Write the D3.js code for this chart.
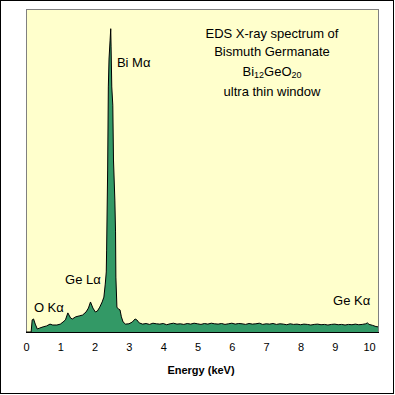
<!DOCTYPE html>
<html>
<head>
<meta charset="utf-8">
<script src="https://cdnjs.cloudflare.com/ajax/libs/d3/7.8.5/d3.min.js"></script>
<style>
  body { margin: 0; background: #fff; }
  svg text { font-family: "Liberation Sans", Arial, sans-serif; }
</style>
</head>
<body>
<div id="chart"></div>
<script>
// spectrum (energy in keV, counts in arbitrary units)
var energy = [
    0.00, 0.15, 0.18, 0.22, 0.27, 0.33, 0.40, 0.50, 0.60, 0.70,
    0.78, 0.90, 1.00, 1.08, 1.15, 1.22, 1.30, 1.35, 1.45, 1.55,
    1.65, 1.75, 1.82, 1.88, 1.95, 2.02, 2.08, 2.15, 2.22, 2.27,
    2.31, 2.34, 2.35, 2.38, 2.40, 2.42, 2.45, 2.47, 2.48, 2.50,
    2.53, 2.55, 2.59, 2.61, 2.62, 2.65, 2.70, 2.74, 2.78, 2.83,
    2.90, 3.00, 3.10, 3.18, 3.23, 3.30,
    3.4, 3.5, 3.6, 3.7, 3.8, 3.9, 4.0, 4.1, 4.2, 4.3,
    4.4, 4.5, 4.6, 4.7, 4.8, 4.9, 5.0, 5.1, 5.2, 5.3,
    5.4, 5.5, 5.6, 5.7, 5.8, 5.9, 6.0, 6.1, 6.2, 6.3,
    6.4, 6.5, 6.6, 6.7, 6.8, 6.9, 7.0, 7.1, 7.2, 7.3,
    7.4, 7.5, 7.6, 7.7, 7.8, 7.9, 8.0, 8.1, 8.2, 8.3,
    8.4, 8.5, 8.6, 8.7, 8.8, 8.9, 9.0, 9.1, 9.2, 9.3,
    9.4, 9.5, 9.6, 9.7, 9.8, 9.9, 9.95, 10.0, 10.1, 10.2, 10.26
];
var counts = [
    0, 0, 40, 43, 26, 10, 13, 17, 20, 26,
    23, 23, 26, 33, 40, 63, 46, 43, 50, 53,
    56, 66, 79, 99, 79, 66, 69, 82, 99, 115,
    158, 198, 270, 534, 808, 900, 960, 1000, 940, 808,
    748, 567, 435, 330, 181, 82, 75, 73, 50, 33,
    26, 27, 33, 43, 40, 30,
    26, 28, 25, 29, 27, 26, 28, 24, 27, 29,
    26, 27, 25, 28, 26, 29, 27, 25, 28, 26,
    29, 27, 26, 28, 25, 27, 29, 26, 28, 27,
    25, 28, 26, 27, 29, 25, 27, 26, 28, 25,
    27, 26, 24, 27, 25, 26, 24, 26, 25, 23,
    25, 26, 24, 25, 23, 25, 26, 24, 25, 23,
    25, 24, 26, 24, 25, 27, 30, 25, 22, 18, 17
];
var xTicks = [0, 1, 2, 3, 4, 5, 6, 7, 8, 9, 10];
var titleLines = ["EDS X-ray spectrum of", "Bismuth Germanate", "", "ultra thin window"];
var peakLabels = [
    { text: "Bi M\u03b1", e: 2.65, c: 874 },
    { text: "Ge L\u03b1", e: 1.14, c: 158 },
    { text: "O K\u03b1", e: 0.23, c: 66 },
    { text: "Ge K\u03b1", e: 8.95, c: 89 }
];

var W = 395, H = 395,
    pLeft = 26, pRight = 378, pTop = 9, pBottom = 332;

var svg = d3.select("#chart").append("svg")
    .attr("width", W)
    .attr("height", H);

// outer frame
svg.append("rect")
    .attr("x", 0.5).attr("y", 0.5)
    .attr("width", 393).attr("height", 393)
    .attr("fill", "#fff")
    .attr("stroke", "#000");

var x = d3.scaleLinear().domain([0, 10.26]).range([pLeft, pRight]);
var y = d3.scaleLinear().domain([0, 1065]).range([pBottom, pTop]);

// plot background
svg.append("rect")
    .attr("x", pLeft + 0.5).attr("y", pTop + 0.5)
    .attr("width", pRight - pLeft).attr("height", pBottom - pTop)
    .attr("fill", "#ffffcc")
    .attr("stroke", "#808080");

var pts = energy.map(function (e, i) { return [e, counts[i]]; });

var area = d3.area()
    .x(function (d) { return x(d[0]); })
    .y0(pBottom)
    .y1(function (d) { return y(d[1]); });

var line = d3.line()
    .x(function (d) { return x(d[0]); })
    .y(function (d) { return y(d[1]); });

svg.append("path")
    .datum(pts)
    .attr("d", area)
    .attr("fill", "#339966");

svg.append("path")
    .datum(pts)
    .attr("d", line)
    .attr("fill", "none")
    .attr("stroke", "#000")
    .attr("stroke-width", 1);

// x axis: line plus labels, no tick marks
var xAxis = d3.axisBottom(x)
    .tickValues(xTicks)
    .tickSize(0)
    .tickPadding(11)
    .tickFormat(d3.format("d"));

var gx = svg.append("g")
    .attr("transform", "translate(0," + (pBottom + 0.5) + ")")
    .call(xAxis);
gx.select(".domain").attr("stroke", "#000").attr("d", "M" + pLeft + ",0H" + (pRight + 1));
gx.selectAll("text")
    .attr("font-size", 11)
    .attr("font-family", "Liberation Sans, Arial, sans-serif")
    .attr("fill", "#000");

svg.append("text")
    .attr("x", 201)
    .attr("y", 374)
    .attr("text-anchor", "middle")
    .attr("font-size", 11)
    .attr("font-weight", "bold")
    .text("Energy (keV)");

// title block
var tx = 272;
var tt = svg.append("g").attr("font-size", 13).attr("text-anchor", "middle");
tt.append("text").attr("x", tx).attr("y", 38).text(titleLines[0]);
tt.append("text").attr("x", tx).attr("y", 56).text(titleLines[1]);
var f = tt.append("text").attr("x", tx).attr("y", 76);
f.append("tspan").text("Bi");
f.append("tspan").attr("font-size", 9).attr("dy", 2).text("12");
f.append("tspan").attr("dy", -2).text("GeO");
f.append("tspan").attr("font-size", 9).attr("dy", 2).text("20");
tt.append("text").attr("x", tx).attr("y", 96).text(titleLines[3]);

// peak labels
svg.selectAll(".peak")
    .data(peakLabels)
    .enter().append("text")
    .attr("class", "peak")
    .attr("x", function (d) { return x(d.e); })
    .attr("y", function (d) { return y(d.c); })
    .attr("font-size", 13)
    .text(function (d) { return d.text; });
</script>
</body>
</html>
